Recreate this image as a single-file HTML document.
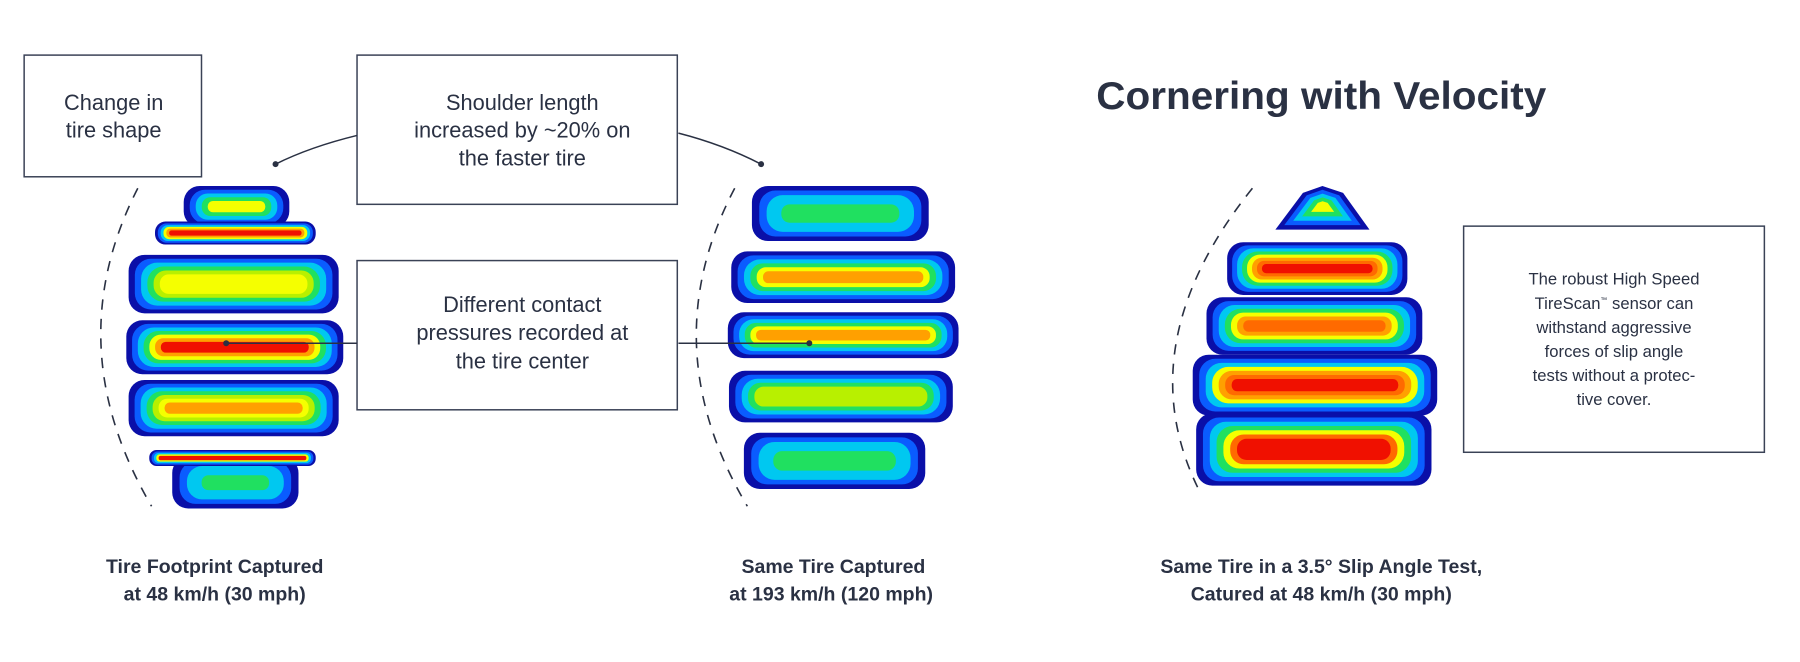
<!DOCTYPE html>
<html><head><meta charset="utf-8">
<style>
html,body{margin:0;padding:0;background:#fff;}
svg{display:block;}
text{font-family:"Liberation Sans",sans-serif;fill:#2a3143;}
</style></head><body>
<svg id="s" width="1800" height="662" viewBox="0 0 1568 576.7" xmlns="http://www.w3.org/2000/svg">
<rect width="1568" height="577" fill="#fff"/>
<g id="tires"></g>
<!-- dashed arcs -->
<g fill="none" stroke="#2a3143" stroke-width="1.4" stroke-dasharray="9,8">
<path d="M120,164 Q50,301 132,441"/>
<path d="M640,164 Q568,301 651,441"/>
<path d="M1091,164 Q982,300 1044,426"/>
</g>
<!-- boxes -->
<g fill="none" stroke="#3a4256" stroke-width="1.3">
<rect x="21" y="48" width="154.5" height="106"/>
<rect x="311" y="48" width="279" height="130"/>
<rect x="311" y="227" width="279" height="130"/>
<rect x="1275" y="197" width="262" height="197"/>
</g>
<!-- connectors -->
<g fill="none" stroke="#2a3143" stroke-width="1.3">
<path d="M311,118 Q270,128 240,143"/>
<path d="M591,116 Q630,126 663,143"/>
<line x1="197" y1="299" x2="311" y2="299"/>
<line x1="591" y1="299" x2="705" y2="299"/>
</g>
<g fill="#2a3143">
<circle cx="240" cy="143" r="2.6"/><circle cx="663" cy="143" r="2.6"/>
<circle cx="197" cy="299" r="2.6"/><circle cx="705" cy="299" r="2.6"/>
</g>
<!-- box text -->
<g font-size="19" text-anchor="middle">
<text x="99" y="96">Change in</text>
<text x="99" y="120">tire shape</text>
<text x="455" y="96">Shoulder length</text>
<text x="455" y="120">increased by ~20% on</text>
<text x="455" y="144">the faster tire</text>
<text x="455" y="272">Different contact</text>
<text x="455" y="296">pressures recorded at</text>
<text x="455" y="321">the tire center</text>
</g>
<g font-size="14.5" text-anchor="middle">
<text x="1406" y="248">The robust High Speed</text>
<text x="1406" y="269">TireScan<tspan font-size="6" dy="-6">™</tspan><tspan dy="6"> sensor can</tspan></text>
<text x="1406" y="290">withstand aggressive</text>
<text x="1406" y="311">forces of slip angle</text>
<text x="1406" y="332">tests without a protec-</text>
<text x="1406" y="353">tive cover.</text>
</g>
<text x="955" y="95" font-size="34" font-weight="bold" textLength="392" lengthAdjust="spacingAndGlyphs">Cornering with Velocity</text>
<g font-size="17" font-weight="bold" text-anchor="middle">
<text x="187" y="499">Tire Footprint Captured</text>
<text x="187" y="523">at 48 km/h (30 mph)</text>
<text x="726" y="499">Same Tire Captured</text>
<text x="724" y="523">at 193 km/h (120 mph)</text>
<text x="1151" y="499">Same Tire in a 3.5° Slip Angle Test,</text>
<text x="1151" y="523">Catured at 48 km/h (30 mph)</text>
</g>
</svg>
<script>
(function(){
var C={b:"#0a0fa8",l:"#0a5cff",c:"#00c8f0",g:"#20e060",y:"#f5ff00",v:"#b8f000",o:"#ffa000",r:"#f01000",d:"#ff6a00"};
var g=document.getElementById("tires"),ns="http://www.w3.org/2000/svg",out="";
function band(x,y,w,h,cols){
  var n=cols.length, s=Math.min(4,(h/2)/(n+0.5));
  for(var i=0;i<n;i++){
    var ix=x+i*s*1.6, iy=y+i*s, iw=w-2*i*s*1.6, ih=h-2*i*s;
    if(iw<=0||ih<=0)break;
    out+='<rect x="'+ix+'" y="'+iy+'" width="'+iw+'" height="'+ih+'" rx="'+Math.min(ih/2.2,14)+'" fill="'+C[cols[i]]+'"/>';
  }
}
function tri(pts,cols){
  var cx=0,cy=0;pts.forEach(function(p){cx+=p[0];cy+=p[1];});cx/=pts.length;cy/=pts.length;
  for(var i=0;i<cols.length;i++){
    var k=1-i/(cols.length+0.3);
    out+='<polygon points="'+pts.map(function(p){return (cx+(p[0]-cx)*k)+","+(cy+(p[1]-cy)*k)}).join(" ")+'" fill="'+C[cols[i]]+'"/>';
  }
}
// tire 1
band(160,162,92,36,"blcgy".split(""));
band(135,193,140,20,"blcyor".split(""));
band(112,222,183,51,"blcgvyy".split(""));
band(110,279,189,47,"blcgyor".split(""));
band(112,331,183,49,"blcgvyo".split(""));
band(150,398,110,45,"blccg".split(""));
band(130,392,145,14,"blcyr".split(""));
// tire 2
band(655,162,154,48,"blccg".split(""));
band(637,219,195,45,"blcgyo".split(""));
band(634,272,201,40,"blcgyo".split(""));
band(635,323,195,45,"blcgvv".split(""));
band(648,377,158,49,"blccg".split(""));
// tire 3
tri([[1111,200],[1135,168],[1152,162],[1170,168],[1193,200]],"blcgy".split(""));
band(1069,211,157,46,"blcgyodr".split(""));
band(1051,259,188,50,"blcgyod".split(""));
band(1039,309,213,53,"blcyodr".split(""));
band(1042,360,205,63,"blcgydrr".split(""));
g.innerHTML=out;
})();
</script>
</body></html>
